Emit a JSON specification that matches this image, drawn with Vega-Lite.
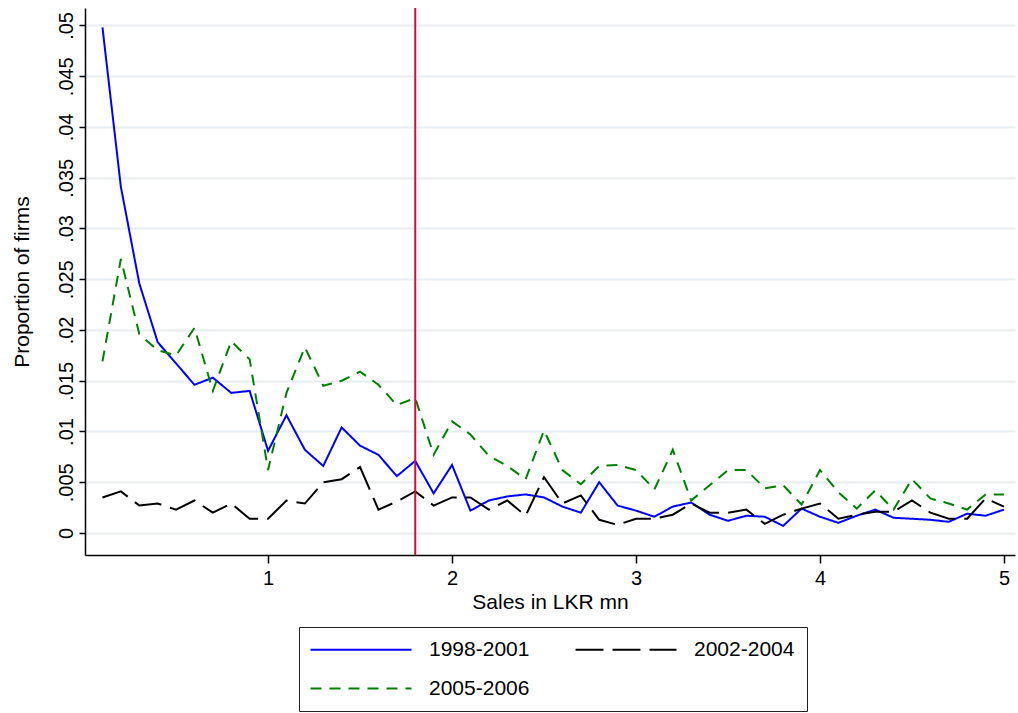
{
  "$schema": "https://vega.github.io/schema/vega-lite/v6.json",
  "width": 930,
  "height": 547,
  "autosize": {"type": "none"},
  "padding": {"left": 85, "top": 8, "right": 3, "bottom": 158},
  "background": "white",
  "config": {
    "view": {"stroke": null},
    "font": "Liberation Sans"
  },
  "datasets": {
    "dist": [
      {"x": 0.1, "1998-2001": 0.0498, "2002-2004": 0.0035, "2005-2006": 0.0169},
      {"x": 0.2, "1998-2001": 0.0341, "2002-2004": 0.0041, "2005-2006": 0.0270},
      {"x": 0.3, "1998-2001": 0.0246, "2002-2004": 0.0027, "2005-2006": 0.0196},
      {"x": 0.4, "1998-2001": 0.0188, "2002-2004": 0.0029, "2005-2006": 0.0180},
      {"x": 0.5, "1998-2001": 0.0167, "2002-2004": 0.0023, "2005-2006": 0.0175},
      {"x": 0.6, "1998-2001": 0.0146, "2002-2004": 0.0032, "2005-2006": 0.0202},
      {"x": 0.7, "1998-2001": 0.0153, "2002-2004": 0.0020, "2005-2006": 0.0140},
      {"x": 0.8, "1998-2001": 0.0138, "2002-2004": 0.0029, "2005-2006": 0.0189},
      {"x": 0.9, "1998-2001": 0.0140, "2002-2004": 0.0014, "2005-2006": 0.0171},
      {"x": 1.0, "1998-2001": 0.0081, "2002-2004": 0.0014, "2005-2006": 0.0062},
      {"x": 1.1, "1998-2001": 0.0116, "2002-2004": 0.0032, "2005-2006": 0.0138},
      {"x": 1.2, "1998-2001": 0.0082, "2002-2004": 0.0029, "2005-2006": 0.0183},
      {"x": 1.3, "1998-2001": 0.0066, "2002-2004": 0.0050, "2005-2006": 0.0145},
      {"x": 1.4, "1998-2001": 0.0104, "2002-2004": 0.0053, "2005-2006": 0.0150},
      {"x": 1.5, "1998-2001": 0.0086, "2002-2004": 0.0065, "2005-2006": 0.0159},
      {"x": 1.6, "1998-2001": 0.0077, "2002-2004": 0.0023, "2005-2006": 0.0146},
      {"x": 1.7, "1998-2001": 0.0056, "2002-2004": 0.0031, "2005-2006": 0.0126},
      {"x": 1.8, "1998-2001": 0.0071, "2002-2004": 0.0041, "2005-2006": 0.0133},
      {"x": 1.9, "1998-2001": 0.0039, "2002-2004": 0.0027, "2005-2006": 0.0077},
      {"x": 2.0, "1998-2001": 0.0067, "2002-2004": 0.0035, "2005-2006": 0.0110},
      {"x": 2.1, "1998-2001": 0.0022, "2002-2004": 0.0035, "2005-2006": 0.0097},
      {"x": 2.2, "1998-2001": 0.0032, "2002-2004": 0.0023, "2005-2006": 0.0076},
      {"x": 2.3, "1998-2001": 0.0036, "2002-2004": 0.0032, "2005-2006": 0.0066},
      {"x": 2.4, "1998-2001": 0.0038, "2002-2004": 0.0017, "2005-2006": 0.0053},
      {"x": 2.5, "1998-2001": 0.0035, "2002-2004": 0.0055, "2005-2006": 0.0101},
      {"x": 2.6, "1998-2001": 0.0026, "2002-2004": 0.0029, "2005-2006": 0.0062},
      {"x": 2.7, "1998-2001": 0.0020, "2002-2004": 0.0037, "2005-2006": 0.0048},
      {"x": 2.8, "1998-2001": 0.0050, "2002-2004": 0.0013, "2005-2006": 0.0066},
      {"x": 2.9, "1998-2001": 0.0027, "2002-2004": 0.0008, "2005-2006": 0.0067},
      {"x": 3.0, "1998-2001": 0.0022, "2002-2004": 0.0014, "2005-2006": 0.0062},
      {"x": 3.1, "1998-2001": 0.0016, "2002-2004": 0.0014, "2005-2006": 0.0043},
      {"x": 3.2, "1998-2001": 0.0026, "2002-2004": 0.0018, "2005-2006": 0.0082},
      {"x": 3.3, "1998-2001": 0.0030, "2002-2004": 0.0029, "2005-2006": 0.0032},
      {"x": 3.4, "1998-2001": 0.0018, "2002-2004": 0.0020, "2005-2006": 0.0047},
      {"x": 3.5, "1998-2001": 0.0012, "2002-2004": 0.0020, "2005-2006": 0.0062},
      {"x": 3.6, "1998-2001": 0.0017, "2002-2004": 0.0023, "2005-2006": 0.0062},
      {"x": 3.7, "1998-2001": 0.0016, "2002-2004": 0.0009, "2005-2006": 0.0044},
      {"x": 3.8, "1998-2001": 0.0007, "2002-2004": 0.0018, "2005-2006": 0.0047},
      {"x": 3.9, "1998-2001": 0.0024, "2002-2004": 0.0024, "2005-2006": 0.0028},
      {"x": 4.0, "1998-2001": 0.0016, "2002-2004": 0.0029, "2005-2006": 0.0062},
      {"x": 4.1, "1998-2001": 0.0010, "2002-2004": 0.0014, "2005-2006": 0.0040},
      {"x": 4.2, "1998-2001": 0.0017, "2002-2004": 0.0018, "2005-2006": 0.0024},
      {"x": 4.3, "1998-2001": 0.0023, "2002-2004": 0.0021, "2005-2006": 0.0042},
      {"x": 4.4, "1998-2001": 0.0015, "2002-2004": 0.0021, "2005-2006": 0.0023},
      {"x": 4.5, "1998-2001": 0.0014, "2002-2004": 0.0032, "2005-2006": 0.0053},
      {"x": 4.6, "1998-2001": 0.0013, "2002-2004": 0.0020, "2005-2006": 0.0034},
      {"x": 4.7, "1998-2001": 0.0011, "2002-2004": 0.0014, "2005-2006": 0.0029},
      {"x": 4.8, "1998-2001": 0.0019, "2002-2004": 0.0014, "2005-2006": 0.0023},
      {"x": 4.9, "1998-2001": 0.0017, "2002-2004": 0.0034, "2005-2006": 0.0038},
      {"x": 5.0, "1998-2001": 0.0023, "2002-2004": 0.0026, "2005-2006": 0.0038}
    ],
    "cutoff": [{"x": 1.8}]
  },
  "layer": [
    {
      "data": {"name": "dist"},
      "transform": [
        {"fold": ["1998-2001", "2002-2004", "2005-2006"], "as": ["period", "p"]}
      ],
      "mark": {"type": "line", "strokeWidth": 2, "strokeCap": "butt"},
      "encoding": {
        "x": {
          "field": "x", "type": "quantitative",
          "scale": {"domain": [0.005, 5.06], "nice": false, "zero": false},
          "axis": {
            "title": "Sales in LKR mn",
            "values": [1, 2, 3, 4, 5],
            "format": "d",
            "grid": false,
            "domainColor": "#000000", "domainWidth": 1.5,
            "tickColor": "#000000", "tickWidth": 1.5, "tickSize": 8,
            "labelFontSize": 20, "labelColor": "#000000", "labelPadding": 5,
            "labelFlush": false,
            "titleFontSize": 21, "titleFontWeight": "normal", "titleColor": "#000000",
            "titlePadding": 3
          }
        },
        "y": {
          "field": "p", "type": "quantitative",
          "scale": {"domain": [-0.00217, 0.05172], "nice": false, "zero": false},
          "axis": {
            "title": "Proportion of firms",
            "values": [0, 0.005, 0.01, 0.015, 0.02, 0.025, 0.03, 0.035, 0.04, 0.045, 0.05],
            "labelExpr": "datum.value == 0 ? '0' : substring(format(datum.value, '.3~f'), 1)",
            "grid": true, "gridColor": "#e6eef1", "gridWidth": 2,
            "domainColor": "#000000", "domainWidth": 1.5,
            "tickColor": "#000000", "tickWidth": 1.5, "tickSize": 6,
            "labelAngle": -90, "labelAlign": "center", "labelBaseline": "bottom",
            "labelFontSize": 20, "labelColor": "#000000", "labelPadding": 3,
            "labelFlush": false, "labelOverlap": false,
            "titleFontSize": 21, "titleFontWeight": "normal", "titleColor": "#000000",
            "titlePadding": 24
          }
        },
        "color": {
          "field": "period", "type": "nominal",
          "scale": {"domain": ["1998-2001", "2002-2004", "2005-2006"], "range": ["#0000ff", "#000000", "#008000"]},
          "legend": {
            "title": null,
            "orient": "none", "legendX": 214, "legendY": 619,
            "direction": "horizontal", "columns": 2,
            "padding": 12, "rowPadding": 17, "columnPadding": 41,
            "strokeColor": "#222222", "fillColor": "#ffffff", "cornerRadius": 0,
            "symbolType": "M-2.2,0H18", "symbolSize": 100, "symbolStrokeWidth": 2,
            "labelOffset": 97, "labelFontSize": 21, "labelColor": "#000000",
            "labelLimit": 300
          }
        },
        "strokeDash": {
          "field": "period", "type": "nominal",
          "scale": {"domain": ["1998-2001", "2002-2004", "2005-2006"], "range": [[1, 0], [28, 9], [11, 8]]},
          "legend": {
            "title": null,
            "orient": "none", "legendX": 214, "legendY": 619,
            "direction": "horizontal", "columns": 2,
            "padding": 12, "rowPadding": 17, "columnPadding": 41,
            "strokeColor": "#222222", "fillColor": "#ffffff", "cornerRadius": 0,
            "symbolType": "M-2.2,0H18", "symbolSize": 100, "symbolStrokeWidth": 2,
            "labelOffset": 97, "labelFontSize": 21, "labelColor": "#000000",
            "labelLimit": 300
          }
        }
      }
    },
    {
      "data": {"name": "cutoff"},
      "mark": {"type": "rule", "color": "#d0103a", "strokeWidth": 2},
      "encoding": {
        "x": {"field": "x", "type": "quantitative"}
      }
    }
  ]
}
